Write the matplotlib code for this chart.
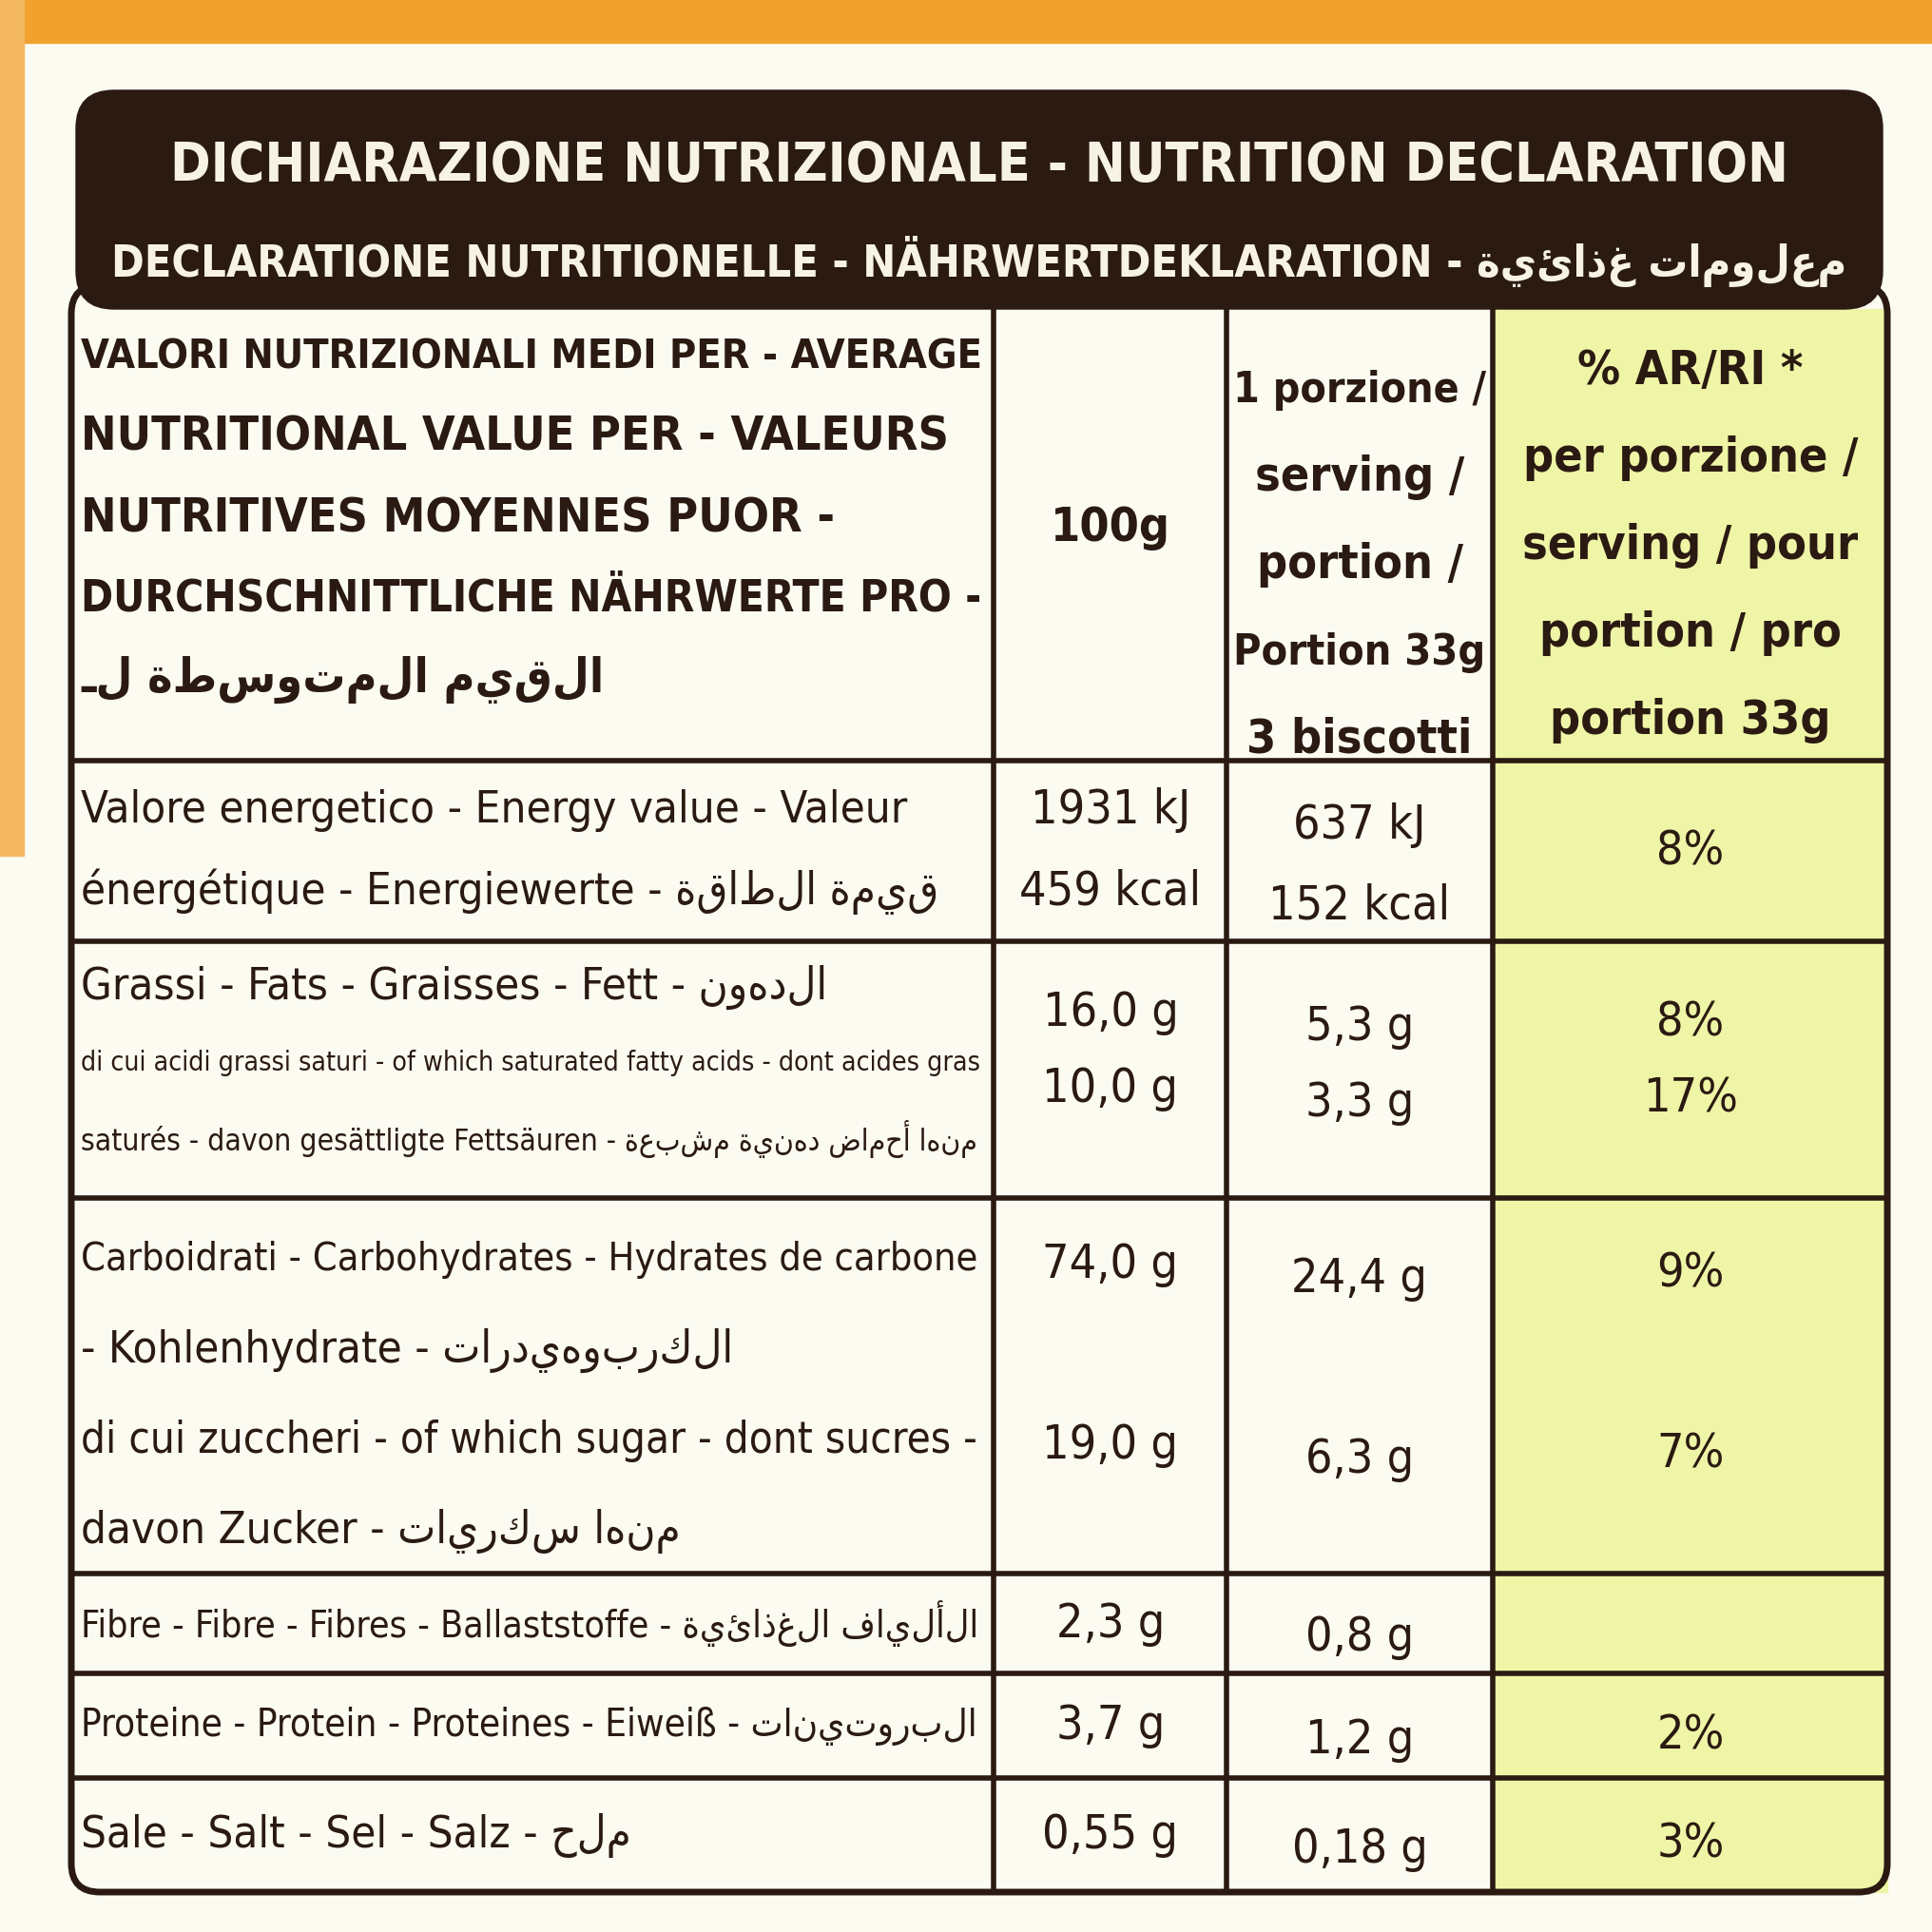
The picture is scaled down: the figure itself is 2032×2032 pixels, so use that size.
import matplotlib
matplotlib.use("Agg")
import matplotlib.pyplot as plt
from matplotlib.patches import FancyBboxPatch, Rectangle

FAM = ['DejaVu Sans']
def ar(s):  # reverse Arabic for visual RTL order
    return s[::-1]

title1 = "DICHIARAZIONE NUTRIZIONALE - NUTRITION DECLARATION"
title2 = "DECLARATIONE NUTRITIONELLE - NÄHRWERTDEKLARATION - " + ar("معلومات غذائية")
head_label = ["VALORI NUTRIZIONALI MEDI PER - AVERAGE", "NUTRITIONAL VALUE PER - VALEURS",
              "NUTRITIVES MOYENNES PUOR -", "DURCHSCHNITTLICHE NÄHRWERTE PRO -", ar("القيم المتوسطة لـ")]
head_100 = "100g"
head_portion = ["1 porzione /", "serving /", "portion /", "Portion 33g", "3 biscotti"]
head_pct = ["% AR/RI *", "per porzione /", "serving / pour", "portion / pro", "portion 33g"]

labels = [
    ["Valore energetico - Energy value - Valeur", "énergétique - Energiewerte - " + ar("قيمة الطاقة")],
    ["Grassi - Fats - Graisses - Fett - " + ar("الدهون"),
     "di cui acidi grassi saturi - of which saturated fatty acids - dont acides gras",
     "saturés - davon gesättligte Fettsäuren - " + ar("منها أحماض دهنية مشبعة")],
    ["Carboidrati - Carbohydrates - Hydrates de carbone", "- Kohlenhydrate - " + ar("الكربوهيدرات"),
     "di cui zuccheri - of which sugar - dont sucres -", "davon Zucker - " + ar("منها سكريات")],
    ["Fibre - Fibre - Fibres - Ballaststoffe - " + ar("الألياف الغذائية")],
    ["Proteine - Protein - Proteines - Eiweiß - " + ar("البروتينات")],
    ["Sale - Salt - Sel - Salz - " + ar("ملح")],
]
per100 = [["1931 kJ", "459 kcal"], ["16,0 g", "10,0 g"], ["74,0 g", "", "19,0 g"], ["2,3 g"], ["3,7 g"], ["0,55 g"]]
perportion = [["637 kJ", "152 kcal"], ["5,3 g", "3,3 g"], ["24,4 g", "", "6,3 g"], ["0,8 g"], ["1,2 g"], ["0,18 g"]]
pct = [["8%"], ["8%", "17%"], ["9%", "", "7%"], [""], ["2%"], ["3%"]]

row_edges = [800, 990, 1260, 1655, 1760, 1870, 1990]
col_edges = [75, 1045, 1290, 1570, 1985]
TXT = '#2a1a12'

fig = plt.figure(figsize=(20.32, 20.32), dpi=100)
ax = fig.add_axes([0, 0, 1, 1])
ax.set_xlim(0, 2032); ax.set_ylim(2032, 0); ax.axis('off')
fig.patch.set_facecolor('#fbfbf2')
R = fig.canvas.get_renderer()

def ft(x, y, s, maxw, fs, **k):
    t = ax.text(x, y, s, fontsize=fs, family=FAM, fontstretch='condensed', **k)
    w = t.get_window_extent(renderer=R).width
    if w > maxw:
        t.set_fontsize(fs * maxw / w)
    return t

ax.add_patch(Rectangle((0, 0), 2032, 45, color='#f0a12e'))
ax.add_patch(Rectangle((0, 0), 25, 900, color='#f3b860'))
ax.add_patch(Rectangle((col_edges[3], 325), col_edges[4]-col_edges[3], row_edges[-1]-325, color='#eef5a6', zorder=1))
ax.add_patch(FancyBboxPatch((80, 95), 1900, 230, boxstyle="round,pad=0,rounding_size=40",
                            color='#2b1a12', zorder=2))
ft(1030, 175, title1, 1700, 46, ha='center', va='center', color='#f6f3e4', fontweight='bold', zorder=3)
ft(1030, 275, title2, 1820, 46, ha='center', va='center', color='#f6f3e4', fontweight='bold', zorder=3)
ax.add_patch(FancyBboxPatch((75, 300), 1910, row_edges[-1]-300, boxstyle="round,pad=0,rounding_size=30",
                            fill=False, ec=TXT, lw=5, zorder=1.5))
for x in col_edges[1:4]:
    ax.plot([x, x], [325, row_edges[-1]], color=TXT, lw=4, zorder=4)
for y in row_edges[:-1]:
    ax.plot([col_edges[0], col_edges[-1]], [y, y], color=TXT, lw=4, zorder=4)

kw = dict(color=TXT, va='center', zorder=5)
for i, s in enumerate(head_label):
    ft(85, 375 + i*85, s, 950, 36, ha='left', fontweight='bold', **kw)
ft(1168, 555, head_100, 230, 36, ha='center', fontweight='bold', **kw)
for i, s in enumerate(head_portion):
    ft(1430, 410 + i*92, s, 265, 36, ha='center', fontweight='bold', **kw)
for i, s in enumerate(head_pct):
    ft(1778, 390 + i*92, s, 395, 36, ha='center', fontweight='bold', **kw)

for r in range(len(labels)):
    top, bot = row_edges[r], row_edges[r+1]
    n = len(labels[r])
    if r == 1: lh_r = 80; start = top + 48
    elif r == 2: lh_r = 95; start = top + 65
    else:
        lh_r = 85; start = (top + bot)/2 - (n-1)*lh_r/2
    for j, s in enumerate(labels[r]):
        ft(85, start + j*lh_r, s, 945, 34, ha='left', **kw)
    m = len(per100[r])
    vstart = start if m > 1 else (top+bot)/2
    if r == 1: vstart = top + 75
    if r == 2: vstart = top + 70
    for j in range(m):
        yy = vstart + j*lh_r
        ft(1168, yy, per100[r][j], 230, 36, ha='center', **kw)
        ft(1430, yy + 15, perportion[r][j], 265, 36, ha='center', **kw)
        if j < len(pct[r]):
            py = (top + bot)/2 if r == 0 else yy + 10
            ft(1778, py, pct[r][j], 395, 36, ha='center', **kw)

fig.savefig('out.png', dpi=100, facecolor=fig.get_facecolor())
